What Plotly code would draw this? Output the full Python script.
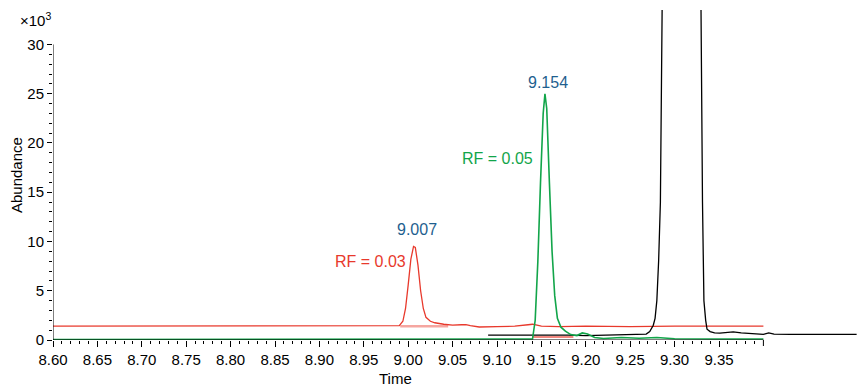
import plotly.graph_objects as go

# ---- data ----
red_time = [8.600, 8.980, 8.990, 8.994, 8.997, 9.000, 9.003, 9.006, 9.008, 9.011, 9.014, 9.017, 9.020,
            9.025, 9.030, 9.040, 9.050, 9.060, 9.065, 9.070, 9.080, 9.100, 9.120, 9.135, 9.140, 9.145,
            9.150, 9.170, 9.200, 9.250, 9.300, 9.400]
red_abund = [1.40, 1.40, 1.45, 1.9, 3.2, 5.6, 8.2, 9.5, 9.4, 7.6, 5.0, 3.2, 2.3,
             1.9, 1.75, 1.6, 1.5, 1.55, 1.55, 1.45, 1.32, 1.35, 1.40, 1.55, 1.60, 1.50,
             1.40, 1.35, 1.40, 1.35, 1.40, 1.40]

green_time = [8.600, 8.700, 8.710, 8.720, 9.130, 9.140, 9.143, 9.146, 9.149, 9.152, 9.154, 9.156,
              9.159, 9.162, 9.165, 9.168, 9.172, 9.177, 9.183, 9.190, 9.196, 9.202, 9.210, 9.220,
              9.240, 9.260, 9.280, 9.300, 9.350, 9.400]
green_abund = [0.05, 0.05, 0.12, 0.05, 0.05, 0.10, 2.0, 8.0, 16.0, 23.0, 25.0, 23.5,
               16.0, 9.0, 4.5, 2.2, 1.3, 0.9, 0.55, 0.45, 0.72, 0.60, 0.25, 0.15,
               0.25, 0.18, 0.25, 0.12, 0.10, 0.10]

black_time = [9.090, 9.100, 9.120, 9.140, 9.160, 9.180, 9.200, 9.220, 9.240, 9.260, 9.268, 9.272,
              9.276, 9.278, 9.280, 9.282, 9.284, 9.286, 9.290, 9.300, 9.310, 9.320, 9.326, 9.3297,
              9.3314, 9.333, 9.335, 9.3365, 9.340, 9.345, 9.351, 9.358, 9.366, 9.375, 9.385, 9.395,
              9.400, 9.406, 9.412, 9.430, 9.450, 9.470, 9.490, 9.505]
black_abund = [0.50, 0.50, 0.52, 0.55, 0.55, 0.50, 0.45, 0.48, 0.50, 0.52, 0.60, 0.85,
               1.5, 2.2, 4.0, 8.0, 14.0, 34.0, 55.0, 70.0, 72.0, 60.0, 45.0, 34.0,
               14.0, 4.0, 2.0, 1.1, 0.85, 0.72, 0.70, 0.74, 0.83, 0.72, 0.65, 0.60,
               0.58, 0.72, 0.60, 0.58, 0.56, 0.60, 0.57, 0.58]

# integration baselines
red_base_time = [8.991, 9.045]
red_base_abund = [1.40, 1.40]
green_base_time = [9.140, 9.186]
green_base_abund = [0.30, 0.30]

x_major = [8.60, 8.65, 8.70, 8.75, 8.80, 8.85, 8.90, 8.95, 9.00, 9.05, 9.10, 9.15, 9.20, 9.25, 9.30, 9.35]
x_labels = ["8.60", "8.65", "8.70", "8.75", "8.80", "8.85", "8.90", "8.95", "9.00", "9.05",
            "9.10", "9.15", "9.20", "9.25", "9.30", "9.35"]
x_end = 9.40
y_major = [0, 5, 10, 15, 20, 25, 30]
y_labels = ["0", "5", "10", "15", "20", "25", "30"]

peak_labels = ["9.007", "9.154"]
rf_labels = ["RF = 0.03", "RF = 0.05"]

RED = "#e8392c"
GREEN = "#12a54a"
BLUE = "#1f5f8f"
FONT = "Liberation Sans, Arial, sans-serif"

x_minor = [round(8.60 + i * 0.01, 2) for i in range(1, 80) if i % 5 != 0]
y_minor = [i for i in range(1, 30) if i % 5 != 0]

fig = go.Figure()
fig.add_trace(go.Scatter(x=red_base_time, y=red_base_abund, mode="lines",
                         line=dict(color="rgba(232,57,44,0.45)", width=2.5), hoverinfo="skip"))
fig.add_trace(go.Scatter(x=green_base_time, y=green_base_abund, mode="lines",
                         line=dict(color="rgba(232,57,44,0.8)", width=1.5), hoverinfo="skip"))
fig.add_trace(go.Scatter(x=red_time, y=red_abund, mode="lines", line=dict(color=RED, width=1.3)))
fig.add_trace(go.Scatter(x=black_time, y=black_abund, mode="lines", line=dict(color="black", width=1.3)))
fig.add_trace(go.Scatter(x=green_time, y=green_abund, mode="lines", line=dict(color=GREEN, width=1.6)))

fig.update_layout(
    width=857, height=388,
    margin=dict(l=53, r=0, t=10, b=48),
    plot_bgcolor="white", paper_bgcolor="white",
    showlegend=False,
    font=dict(family=FONT, size=15, color="black"),
    xaxis=dict(range=[8.60, 9.5054], showgrid=False, zeroline=False, showline=False,
               tickmode="array", tickvals=x_major, ticktext=x_labels,
               ticks="outside", ticklen=6, tickcolor="black", tickwidth=1,
               tickfont=dict(family=FONT, size=15),
               minor=dict(tickmode="array", tickvals=x_minor, ticks="outside", ticklen=3,
                          tickcolor="black", tickwidth=1)),
    yaxis=dict(range=[0, 33.5], showgrid=False, zeroline=False, showline=False,
               tickmode="array", tickvals=y_major, ticktext=y_labels,
               ticks="outside", ticklen=5, tickcolor="black", tickwidth=1,
               tickfont=dict(family=FONT, size=15),
               minor=dict(tickmode="array", tickvals=y_minor, ticks="outside", ticklen=3,
                          tickcolor="black", tickwidth=1)),
)

# axis lines limited to the labelled span, plus the closing tick at 9.40
fig.add_shape(type="line", xref="x", yref="y", x0=8.60, x1=x_end, y0=0, y1=0,
              line=dict(color="black", width=1))
fig.add_shape(type="line", xref="x", yref="y", x0=8.60, x1=8.60, y0=0, y1=30,
              line=dict(color="black", width=1))
fig.add_shape(type="line", xref="x", yref="paper", x0=x_end, x1=x_end, y0=0, y1=-6 / 330,
              line=dict(color="black", width=1))

ann = [
    dict(x=9.0095, y=11.2, text=peak_labels[0], font=dict(color=BLUE, size=16)),
    dict(x=8.957, y=7.95, text=rf_labels[0], font=dict(color=RED, size=16)),
    dict(x=9.157, y=26.1, text=peak_labels[1], font=dict(color=BLUE, size=16)),
    dict(x=9.100, y=18.4, text=rf_labels[1], font=dict(color=GREEN, size=16)),
]
for a in ann:
    fig.add_annotation(xref="x", yref="y", showarrow=False, xanchor="center", yanchor="middle",
                       font_family=FONT, **a)

fig.add_annotation(xref="paper", yref="paper", x=0, y=1.0, xanchor="right", yanchor="middle",
                   yshift=-9, text="×10<sup>3</sup>", showarrow=False,
                   font=dict(family=FONT, size=15, color="black"))
fig.add_annotation(xref="paper", yref="paper", x=(395 - 53) / 804, y=0, xanchor="center",
                   yanchor="middle", yshift=-38, text="Time", showarrow=False,
                   font=dict(family=FONT, size=15, color="black"))
fig.add_annotation(xref="paper", yref="paper", x=0, xshift=-37, y=0.5, xanchor="center",
                   yanchor="middle", textangle=-90, text="Abundance", showarrow=False,
                   font=dict(family=FONT, size=15, color="black"))

fig.write_html("out.html")
